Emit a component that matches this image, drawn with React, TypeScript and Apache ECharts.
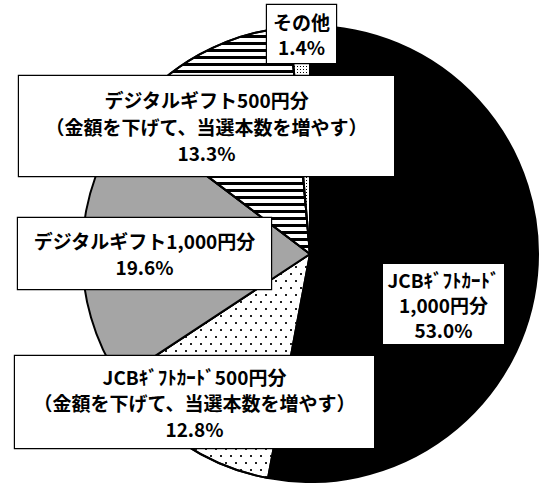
import React, { useEffect, useRef } from "react";
import * as echarts from "echarts";

const categories = [
  "JCBｷﾞﾌﾄｶｰﾄﾞ\n1,000円分",
  "JCBｷﾞﾌﾄｶｰﾄﾞ500円分\n（金額を下げて、当選本数を増やす）",
  "デジタルギフト1,000円分",
  "デジタルギフト500円分\n（金額を下げて、当選本数を増やす）",
  "その他",
];
const values = [53.0, 12.8, 19.6, 13.3, 1.4];

// label box centers / sizes (layout only)
const labelCenters = [
  [443.5, 304],
  [194.5, 402],
  [144.5, 253.5],
  [206.5, 126],
  [301.5, 34],
];
const labelWidths = [121, 359, 253, 375, 69];
const labelPaddings = [
  [4, 0, 1, 0],
  [9, 0, 5, 0],
  [12, 0, 7, 0],
  [10.75, 0, 9.75, 0],
  [6, 0, 1, 0],
];
const labelLineHeights = [25, 26, 26, 26.5, 25.5];

const fills = ["#000000", "#ffffff", "#a5a5a5", "#ffffff", "#ffffff"];
const decals: any[] = [
  null,
  {
    symbol: "rect",
    symbolSize: 1,
    color: "#222",
    dashArrayX: [
      [2, 8],
      [0, 5, 2, 3],
    ],
    dashArrayY: [2, 5],
    rotation: 0,
  },
  null,
  {
    symbol: "rect",
    symbolSize: 1,
    color: "#000",
    dashArrayX: [1, 0],
    dashArrayY: [3, 3.7],
    rotation: 0,
  },
  {
    symbol: "rect",
    symbolSize: 1,
    color: "#000",
    dashArrayX: [1, 2],
    dashArrayY: [1, 2],
    rotation: 0,
  },
];

export default function App() {
  const ref = useRef<HTMLDivElement>(null);
  useEffect(() => {
    if (!ref.current) return;
    const chart = echarts.init(ref.current, null, { renderer: "svg" });
    const data = categories.map((name, i) => {
      const item: any = {
        name,
        value: values[i],
        itemStyle: { color: fills[i] },
        label: {
          width: labelWidths[i],
          padding: labelPaddings[i],
          lineHeight: labelLineHeights[i],
        },
      };
      if (decals[i]) item.itemStyle.decal = decals[i];
      return item;
    });
    chart.setOption({
      animation: false,
      backgroundColor: "#ffffff",
      series: [
        {
          type: "pie",
          center: [310, 254],
          radius: 228,
          startAngle: 90,
          clockwise: true,
          avoidLabelOverlap: false,
          silent: true,
          emphasis: { disabled: true },
          itemStyle: { borderColor: "#000", borderWidth: 2 },
          labelLine: { show: false },
          label: {
            show: true,
            position: "inside",
            formatter: (p: any) => `${p.name}\n${Number(p.value).toFixed(1)}%`,
            color: "#000",
            fontFamily: "'Noto Sans CJK JP', sans-serif",
            fontWeight: "bold",
            fontSize: 19,
            align: "center",
            backgroundColor: "#fff",
            borderColor: "#000",
            borderWidth: 1.2,
            borderRadius: 0,
            overflow: "none",
          },
          labelLayout: (params: any) => {
            const c = labelCenters[params.dataIndex];
            return {
              x: c[0],
              y: c[1],
              align: "center",
              verticalAlign: "middle",
            };
          },
          data,
        },
      ],
    });
    return () => chart.dispose();
  }, []);
  return (
    <div
      ref={ref}
      style={{ position: "absolute", left: 0, top: 0, width: 544, height: 483 }}
    />
  );
}
